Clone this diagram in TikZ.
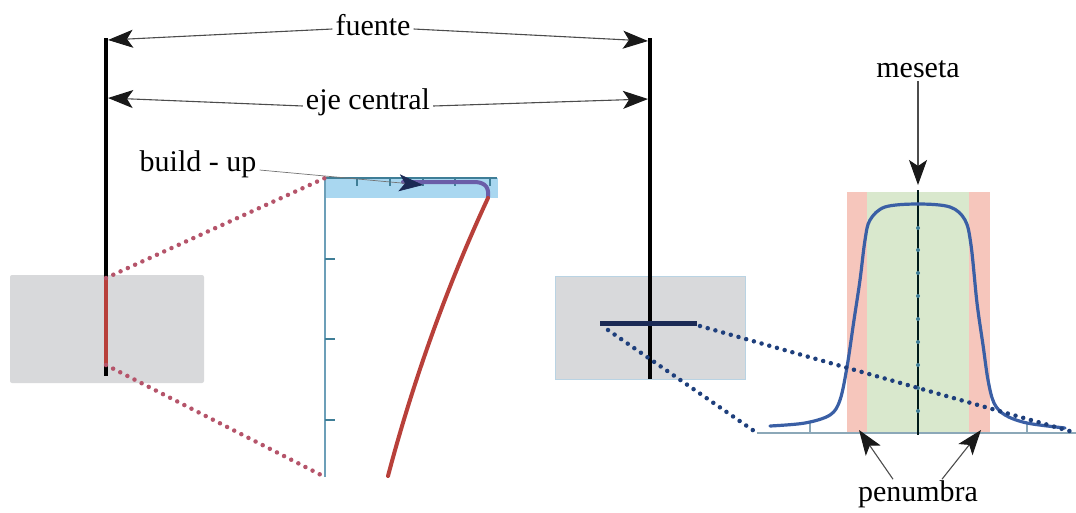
\documentclass[tikz,border=0pt]{standalone}
\usepackage{fontspec}
\setmainfont{Liberation Serif}
\usetikzlibrary{arrows.meta}
\definecolor{boxgray}{HTML}{D8D9DB}
\definecolor{boxedge}{HTML}{B9D3E3}
\definecolor{lblue}{HTML}{A9D7F0}
\definecolor{axteal}{HTML}{3F7E97}
\definecolor{axblue}{HTML}{6C9FB8}
\definecolor{curvered}{HTML}{B8403A}
\definecolor{curvepurp}{HTML}{6A5DA8}
\definecolor{dotred}{HTML}{B5546A}
\definecolor{dotblue}{HTML}{1E3F7C}
\definecolor{penred}{HTML}{F6C6BC}
\definecolor{pengreen}{HTML}{D9E8CD}
\definecolor{profblue}{HTML}{3A5FA5}
\definecolor{navybar}{HTML}{1B2A55}
\definecolor{haxis}{HTML}{8CA8B8}
\begin{document}
\begin{tikzpicture}[x=1pt,y=-1pt,
  lbl/.style={font=\fontsize{30}{36}\selectfont, inner sep=3pt},
  arr/.style={-{Stealth[length=25pt,width=18pt,inset=6pt,color=black!90]}, line width=1.1pt, black!70},
  reddots/.style={dotred, line width=4.5pt, line cap=round, dash pattern=on 0pt off 8pt},
  bluedots/.style={dotblue, line width=4.5pt, line cap=round, dash pattern=on 0pt off 8pt},
  tick/.style={axteal, line width=1.4pt}]
\useasboundingbox (0,0) rectangle (1076,512);

% ---------- left gray box and beam line
\fill[boxgray, rounded corners=2pt] (10,275) rectangle (204,383);
\coordinate (LTop) at (106,38);
\coordinate (LBot) at (106,376);
\coordinate (LRa) at (106,278);
\coordinate (LRb) at (106,365);
\draw[black, line width=4.5pt] (LTop) -- (LBot);
\draw[curvered, line width=4pt] (LRa) -- (LRb);

% ---------- right gray box and beam line
\filldraw[fill=boxgray, draw=boxedge, line width=0.8pt] (555,276) rectangle (745,379);
\coordinate (RTop) at (650,38);
\coordinate (RBot) at (650,379);
\draw[black, line width=4.5pt] (RTop) -- (RBot);
\coordinate (BarL) at (600,323);
\coordinate (BarR) at (697,323);
\draw[navybar, line width=5pt] (BarL) -- (BarR);

% ---------- depth dose chart
\fill[lblue] (325,178) rectangle (498,198);
\coordinate (DTL) at (325,178);
\coordinate (DTR) at (497,178);
\coordinate (DBL) at (325,477);
\draw[axteal, line width=2pt] (DTL) -- (DTR);
\draw[axblue, line width=2.2pt] (DTL) -- (DBL);
\foreach \x in {357,390,423,455,490} \draw[tick] (\x,178) -- (\x,186);
\foreach \y in {259,339,420} \draw[axteal, line width=1.4pt] (325,\y) -- (335,\y);
\draw[curvepurp, line width=4pt, line cap=round] (403,182) -- (476,182) .. controls (486,183) and (489,188) .. (488,197);
\draw[curvered, line width=4pt, line cap=round] (488,198) .. controls (446,288) and (412,385) .. (388,476);

% red dotted zoom lines
\draw[reddots] (LRa) -- (DTL);
\draw[reddots] (LRb) -- (DBL);

% ---------- profile chart
\fill[penred] (847,192) rectangle (990,433);
\fill[pengreen] (867,192) rectangle (969,433);
\coordinate (HAL) at (757,433);
\coordinate (HAR) at (1076,433);
\draw[haxis, line width=2.4pt] (HAL) -- (HAR);
\foreach \x in {810,1027} \draw[haxis, line width=1.4pt] (\x,433) -- (\x,423);
\coordinate (VAT) at (918,190);
\coordinate (VAB) at (918,435);
\draw[black!80!teal, line width=2.6pt] (VAT) -- (VAB);
\foreach \y in {228,250,273,296,319,342,365,388,411} \fill[axteal] (918,\y) circle (2pt);
\draw[profblue, line width=3.2pt, line cap=round]
  plot[smooth, tension=0.55] coordinates {(770,426) (805,423) (830,415) (840,400) (847,367) (854,320) (860,280) (865,240) (870,220) (885,207) (918,204) (950,207) (965,220) (971,245) (977,303) (983,345) (988,380) (994,403) (1005,415) (1027,423) (1065,428)};

% blue dotted zoom lines
\coordinate (BdL) at (608,330);
\coordinate (BdR) at (700,326);
\coordinate (BeL) at (757,433);
\coordinate (BeR) at (1073,432);
\draw[bluedots] (BdL) -- (BeL);
\draw[bluedots] (BdR) -- (BeR);

% ---------- labels
\node[lbl] (fu) at (373,25) {fuente};
\coordinate (fuL) at (108,40);
\coordinate (fuR) at (648,41);
\draw[arr] ([yshift=-4pt]fu.west) -- (fuL);
\draw[arr] ([yshift=-4pt]fu.east) -- (fuR);

\node[lbl] (ej) at (368,102) {eje central};
\coordinate (ejL) at (108,98);
\coordinate (ejR) at (648,99);
\draw[arr] ([yshift=-4pt]ej.west) -- (ejL);
\draw[arr] ([yshift=-4pt]ej.east) -- (ejR);

\node[lbl] (bu) at (198,164) {build - up};
\coordinate (buT) at (423,185);
\draw[black!55, line width=0.7pt, -{Stealth[length=24pt,width=17pt,inset=6pt,color=navybar]}] ([yshift=-6pt]bu.east) -- (buT);

\node[lbl] (me) at (918,69) {meseta};
\coordinate (meT) at (918,185);
\draw[arr] (me.south) -- (meT);

\node[lbl] (pe) at (918,494) {penumbra};
\coordinate (peL) at (859,430);
\coordinate (peR) at (981,430);
\draw[arr] ([xshift=-25pt,yshift=-2pt]pe.north) -- (peL);
\draw[arr] ([xshift=24pt,yshift=-2pt]pe.north) -- (peR);
\end{tikzpicture}
\end{document}
